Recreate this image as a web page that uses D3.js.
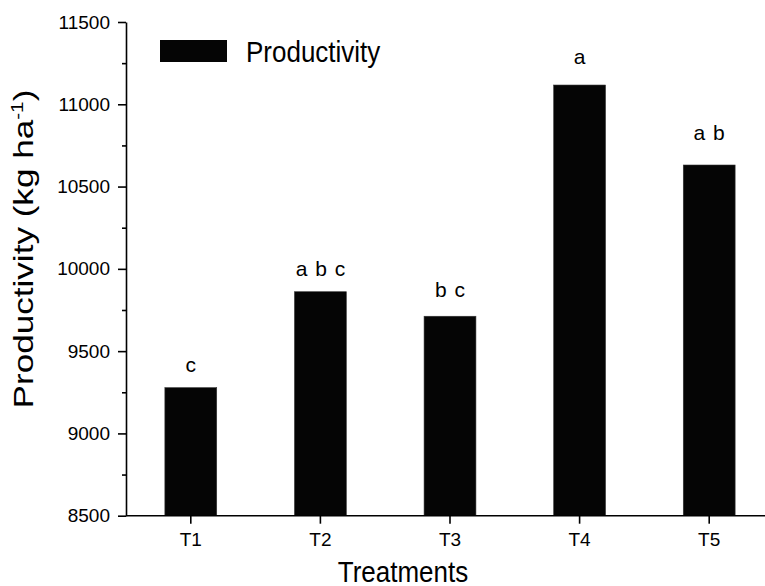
<!DOCTYPE html>
<html>
<head>
<meta charset="utf-8">
<style>
body { margin: 0; background: #fff; }
text { font-family: "Liberation Sans", Arial, sans-serif; fill: #000; }
.axis path, .axis line { stroke: #000; stroke-width: 1.6px; }
</style>
<title>Productivity</title>
</head>
<body>
<div id="chart"></div>
<script src="https://d3js.org/d3.v7.min.js"></script>
<script>
// data
var treatments = ["T1", "T2", "T3", "T4", "T5"];
var productivity = [9278, 9861, 9712, 11117, 10631];
var letters = ["c", "a b c", "b c", "a", "a b"];
var letterAt = [9375, 9957, 9831, 11245, 10783];
var yTicks = [8500, 9000, 9500, 10000, 10500, 11000, 11500];
var yMinor = [8750, 9250, 9750, 10250, 10750, 11250];

var width = 765, height = 586;
var plotLeft = 126, plotBottom = 515.7, plotTop = 22;

var svg = d3.select("#chart").append("svg")
    .attr("width", width)
    .attr("height", height);

var x = d3.scaleBand()
    .domain(treatments)
    .range([plotLeft, plotLeft + 5 * 129.6])
    .paddingInner(0.6)
    .paddingOuter(0.3);

var y = d3.scaleLinear()
    .domain([8500, 11500])
    .range([plotBottom, plotTop]);

// bars
svg.append("g")
  .selectAll("rect")
  .data(productivity)
  .enter().append("rect")
    .attr("x", function(d, i) { return x(treatments[i]); })
    .attr("y", function(d) { return y(d); })
    .attr("width", x.bandwidth())
    .attr("height", function(d) { return plotBottom - y(d); })
    .attr("fill", "#050505")
    .attr("stroke", "#333")
    .attr("stroke-width", 0.6);

// significance letters
svg.append("g")
  .selectAll("text")
  .data(letters)
  .enter().append("text")
    .attr("x", function(d, i) { return x(treatments[i]) + x.bandwidth() / 2; })
    .attr("y", function(d, i) { return y(letterAt[i]); })
    .attr("text-anchor", "middle")
    .attr("font-size", 21)
    .attr("word-spacing", 2)
    .text(function(d) { return d; });

// y axis
svg.append("g")
    .attr("class", "axis")
    .attr("transform", "translate(" + plotLeft + ",0)")
    .call(d3.axisLeft(y).tickValues(yTicks).tickSize(8).tickPadding(8).tickSizeOuter(0).tickFormat(d3.format("d")))
    .call(function(g) { g.selectAll("text").attr("font-size", 19).attr("font-family", "Liberation Sans"); });

svg.append("g")
    .attr("class", "axis")
    .attr("transform", "translate(" + plotLeft + ",0)")
    .call(d3.axisLeft(y).tickValues(yMinor).tickSize(4).tickFormat(""))
    .select(".domain").remove();

// x axis
var xAxis = svg.append("g")
    .attr("class", "axis")
    .attr("transform", "translate(0," + plotBottom + ")")
    .call(d3.axisBottom(x).tickSize(8).tickPadding(9).tickSizeOuter(0));
xAxis.select(".domain").attr("d", "M" + plotLeft + ",0H" + width);
xAxis.selectAll("text").attr("font-size", 19).attr("font-family", "Liberation Sans");

// axis titles
svg.append("text")
    .attr("transform", "translate(403,582) scale(1,1.12)")
    .attr("text-anchor", "middle")
    .attr("font-size", 26)
    .text("Treatments");

var yt = svg.append("text")
    .attr("transform", "translate(33,249) rotate(-90) scale(1.3,1)")
    .attr("text-anchor", "middle")
    .attr("font-size", 27);
yt.append("tspan").text("Productivity (kg ha");
yt.append("tspan").attr("font-size", 16).attr("dy", -10).text("-1");
yt.append("tspan").attr("dy", 10).text(")");

// legend
svg.append("rect")
    .attr("x", 160).attr("y", 40)
    .attr("width", 67).attr("height", 22)
    .attr("fill", "#050505");
svg.append("text")
    .attr("transform", "translate(246,61.5) scale(1,1.12)")
    .attr("font-size", 26)
    .text("Productivity");
</script>
</body>
</html>
